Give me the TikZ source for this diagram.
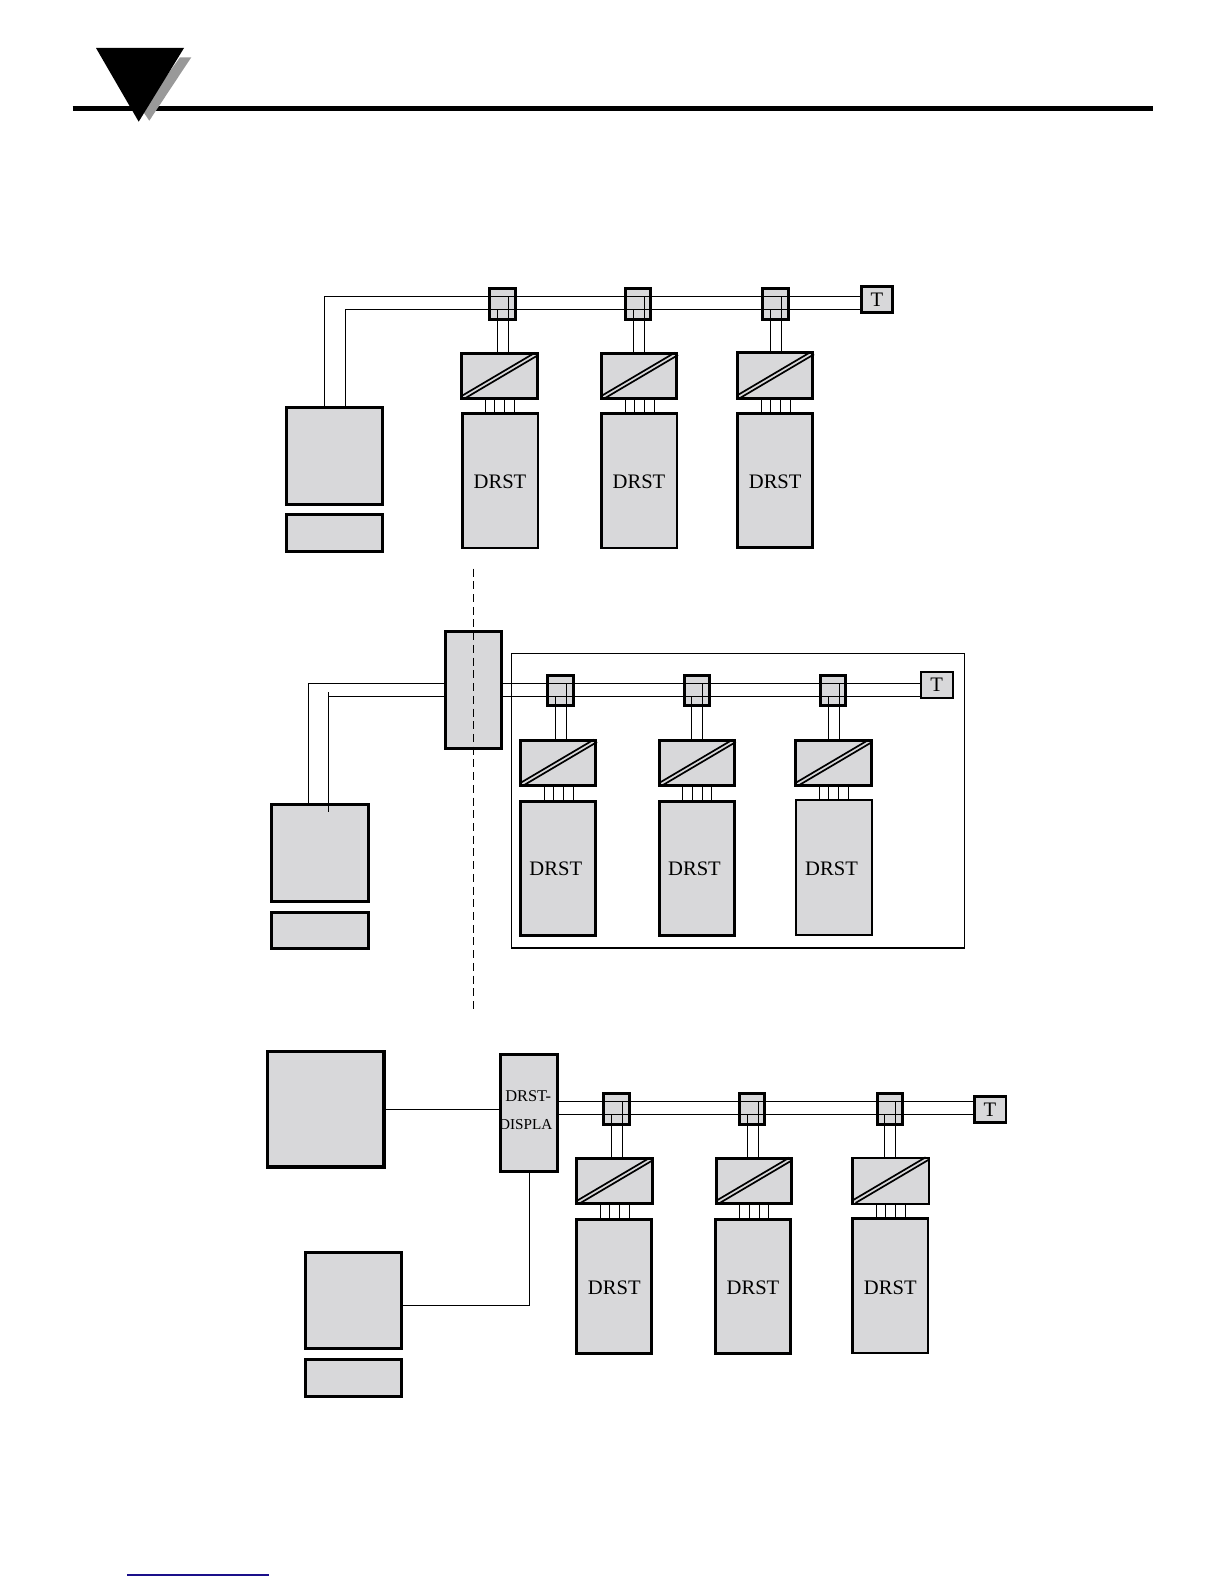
\documentclass[tikz,border=0pt]{standalone}
\usepackage{fontspec}
\setmainfont{Liberation Serif}
\definecolor{boxgray}{HTML}{D8D8DA}
\definecolor{shadowgray}{HTML}{999999}
\definecolor{navyline}{HTML}{1A0F8A}
\tikzset{
  boxshape/.style={draw=black,fill=boxgray,rectangle,inner sep=0pt,outer sep=0pt,text=black},
  wire/.style={draw=black,line width=0.55pt},
  biglabel/.style={inner sep=0pt,font=\fontsize{10.3}{12}\selectfont},
  sepline/.style={draw=black,line width=0.6pt,dash pattern=on 4pt off 2.36pt},
  diagline/.style={draw=black,line width=0.85pt}
}
% lw, name, x0, y0, x1, y1 (outer edges, px), text
\newcommand\cbox[7]{%
  \node[boxshape,line width={#1*0.5pt},minimum width={((#5)-(#3)-(#1))*0.5pt},minimum height={((#6)-(#4)-(#1))*0.5pt}] (#2) at ({((#3)+(#5))/2},{((#4)+(#6))/2}) {#7};}
% prefix, coupler dx, coupler dy, conv dx, conv dy, drst dx, drst dy, conv lw, drst lw
\newcommand\stn[9]{%
  \cbox{3}{#1c}{488.3+#2}{287.3+#3}{516.7+#2}{320.7+#3}{}
  \cbox{#8}{#1k}{460.3+#4}{352+#5}{538.7+#4}{400.4+#5}{}
  \cbox{#9}{#1d}{461+#6}{412+#7}{539+#6}{549.3+#7}{}
  \node[biglabel] (#1l) at ({500+#6+\tdx},\ty) {DRST};
  \draw[diagline] ([shift={(-0.2,42.5)}]#1k.north west) -- ([shift={(73.2,-0.8)}]#1k.north west);
  \draw[diagline] ([shift={(3.2,44.8)}]#1k.north west) -- ([shift={(76.5,1.5)}]#1k.north west);
  \coordinate (#1sl) at ({floor(497.3+#2)+0.5},\lbus);
  \coordinate (#1sr) at ({floor(508.3+#2)+0.5},\ubus);
  \draw[wire] (#1sl) -- (#1sl |- #1k.north);
  \draw[wire] (#1sr) -- (#1sr |- #1k.north);
  \foreach \off in {25,34.5,44.5,54}{
    \coordinate (#1p) at ({floor(460.3+#4+\off)+0.5},{399+#5});
    \draw[wire] (#1p |- #1k.south) -- (#1p |- #1d.north);
  }
}
\begin{document}
\begin{tikzpicture}[x=0.5pt,y=-0.5pt]
\useasboundingbox (0,0) rectangle (1224,1584);
% header
\coordinate (hl) at (72.7,108.5);
\coordinate (hr) at (1153,108.5);
\draw[line width=2.5pt] (hl) -- (hr);
\fill[shadowgray] (180,57.3) -- (191.3,57.3) -- (149.3,120.7) -- (142,110) -- cycle;
\fill[black] (96,48) -- (184,48) -- (138.7,121.7) -- cycle;
% bottom rule
\coordinate (bl) at (127,1575);
\coordinate (br) at (269,1575);
\draw[navyline,line width=0.55pt] (bl) -- (br);

% ===== group 1
\def\ubus{296.5}\def\lbus{309.5}\def\tdx{0}\def\ty{482}
\cbox{3}{aComp}{285}{406}{383.7}{505.7}{}
\cbox{3}{aKbd}{285}{513}{383.7}{552.7}{}
\cbox{3}{aT}{860}{285}{894}{314}{\fontsize{10.3}{12}\selectfont T}
\stn{a1}{0}{0}{0}{0}{0}{0}{3}{2.5}
\stn{a2}{135.7}{0}{139.7}{0}{139}{0}{3}{2.5}
\stn{a3}{273}{0}{275.7}{-0.7}{275.2}{0}{3}{3.2}
\coordinate (aU) at (324.5,296.5);
\coordinate (aL) at (345.5,309.5);
\draw[wire] (aU |- aComp.north) -- (aU) -- (aU -| aT.west);
\draw[wire] (aL |- aComp.north) -- (aL) -- (aL -| aT.west);

% ===== group 2
\def\ubus{683.5}\def\lbus{696.5}\def\tdx{-2.5}\def\ty{869}
\node[draw=black,line width=0.55pt,rectangle,inner sep=0pt,outer sep=0pt,minimum width=226.6pt,minimum height=147.3pt] (bFrame) at (737.8,800.7) {};
\cbox{3}{bBar}{444.3}{630}{502.7}{749.7}{}
\cbox{3}{bComp}{270}{803}{370}{903}{}
\cbox{3}{bKbd}{270}{910.5}{370}{950}{}
\cbox{2.5}{bT}{919.5}{670.6}{954}{699}{\fontsize{10.3}{12}\selectfont T}
\stn{b1}{58}{386.7}{58.7}{387}{58.3}{388}{3}{3}
\stn{b2}{194.4}{386.7}{197.5}{387}{197}{388}{3}{3}
\stn{b3}{330.7}{386.7}{333.8}{387}{334}{387}{3}{2.2}
\coordinate (bU) at (308.5,683.5);
\coordinate (bL) at (328.5,696.5);
\coordinate (bLtop) at (328.5,691.7);
\coordinate (bLbot) at (328.5,811.7);
\draw[wire] (bU |- bComp.north) -- (bU) -- (bU -| bBar.west);
\draw[wire] (bLbot) -- (bLtop);
\draw[wire] (bL) -- (bL -| bBar.west);
\draw[wire] (bBar.east |- bU) -- (bU -| bT.west);
\draw[wire] (bBar.east |- bL) -- (bL -| bT.west);

% ===== group 3
\def\ubus{1101.5}\def\lbus{1114.5}\def\tdx{0}\def\ty{1288}
\cbox{3.4}{cBig}{265.8}{1050}{385.6}{1168.5}{}
\cbox{3}{cDisp}{499.3}{1053.3}{559}{1172.7}{}
\node[inner sep=0pt,font=\fontsize{8.2}{9}\selectfont] (cDa) at (528.2,1095.7) {DRST-};
\node[inner sep=0pt,font=\fontsize{7.6}{9}\selectfont] (cDb) at (525.8,1125) {DISPLA};
\cbox{3}{cComp}{304.2}{1251}{402.8}{1349.6}{}
\cbox{3}{cKbd}{304.2}{1357.6}{402.8}{1397.6}{}
\cbox{2.5}{cT}{973}{1095}{1007}{1123.5}{\fontsize{10.3}{12}\selectfont T}
\stn{c1}{114}{805}{114.9}{805}{114.3}{806}{3}{3}
\stn{c2}{249.7}{805}{254.2}{805}{253}{806}{3}{3}
\stn{c3}{387.3}{805}{391}{805}{390.3}{805}{2.2}{2.5}
\coordinate (cU) at (559,1101.5);
\coordinate (cL) at (559,1114.5);
\draw[wire] (cU) -- (cU -| cT.west);
\draw[wire] (cL) -- (cL -| cT.west);
\coordinate (cA) at (385.6,1109.5);
\draw[wire] (cA) -- (cA -| cDisp.west);
\coordinate (cB) at (529.5,1305.5);
\draw[wire] (cB |- cDisp.south) -- (cB) -- (cB -| cComp.east);

% separator
\coordinate (sepT) at (473.5,568.6);
\coordinate (sepB) at (473.5,1009);
\draw[sepline] (sepT) -- (sepB);
\end{tikzpicture}
\end{document}
